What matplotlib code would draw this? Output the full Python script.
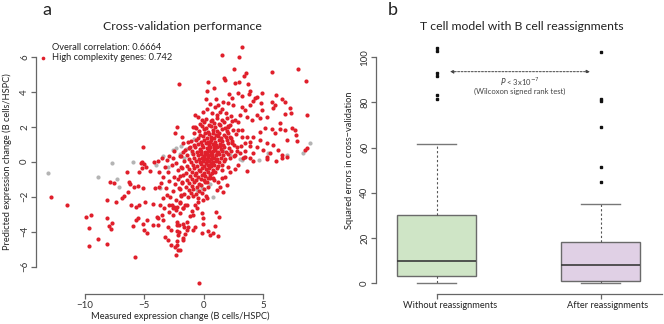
import numpy as np
import matplotlib
matplotlib.use("Agg")
import matplotlib.pyplot as plt

plt.rcParams['font.family'] = ['Lato', 'DejaVu Sans']

# ---- panel a: cross-validation scatter (measured vs predicted) ----
red_pts = [
    # outlying points
    (3.24, 6.53), (1.56, 6.09), (2.96, 5.96), (2.51, 5.29), (5.76, 5.10), (7.89, 5.27), (8.56, 4.59),
    (-2.12, 4.43), (1.70, 4.80), (1.78, 4.66), (3.55, 5.05), (3.38, 4.89), (0.35, 4.57), (2.65, 4.47),
    (2.96, 4.53), (3.74, 4.44), (0.24, 4.05), (0.86, 4.19), (2.15, 3.86), (2.90, 3.94), (3.18, 3.75),
    (3.88, 4.05), (3.83, 3.86), (4.86, 3.94), (4.30, 3.62), (4.50, 3.67), (4.11, 3.48), (4.78, 3.33),
    (5.70, 3.43), (5.98, 3.24), (5.79, 3.05), (6.54, 3.56), (6.82, 3.43), (6.07, 3.81), (7.24, 3.05),
    (7.30, 2.80), (6.82, 2.72), (6.40, 2.19), (7.66, 1.81), (7.38, 1.90), (8.64, 2.66), (7.75, 1.52),
    (7.80, 1.20), (6.82, 1.81), (6.96, 1.24), (6.40, 1.85), (5.70, 1.85), (5.98, 1.62), (5.84, 0.95),
    (6.26, 0.66), (6.54, 0.38), (6.96, 0.28), (8.64, 0.76), (8.50, 0.66), (5.28, 2.57), (4.72, 2.47),
    (4.44, 2.66), (4.86, 2.95), (5.14, 1.90), (4.72, 1.71), (4.72, 1.24), (5.28, 1.05), (5.00, 0.66),
    (4.16, 1.43), (3.88, 1.14), (3.60, 1.43), (4.44, 0.85), (4.16, 0.47), (5.28, 0.28), (5.56, 0.47),
    (3.88, 3.24), (3.46, 2.95), (3.60, 2.57), (4.02, 2.38), (3.18, 3.14), (3.04, 2.66), (2.90, 2.28),
    (2.34, 3.62), (2.48, 3.24), (2.06, 3.33), (1.64, 3.43), (1.22, 3.24), (0.94, 3.14), (1.36, 2.85),
    (1.08, 2.66), (0.66, 2.76), (0.24, 2.99), (-0.04, 2.85), (-0.18, 2.38), (-0.46, 2.57), (-0.74, 2.66),
    (-0.74, 1.99), (-0.88, 1.96), (-2.28, 1.96), (-2.42, 1.66), (-1.86, 1.43), (-1.72, 1.05), (-1.30, 1.14),
    (-1.16, 0.85), (-1.58, 0.66), (2.62, 2.38), (2.90, 1.81), (3.18, 1.43), (3.46, 1.05), (2.76, 0.85),
    (3.04, 0.47), (3.46, 0.28), (2.06, 2.00), (2.20, 1.43), (2.34, 1.05), (0.50, 3.30), (1.00, 3.60),
    (1.50, 3.00), (1.90, 2.80), (2.30, 2.60), (0.20, 3.60), (0.70, 2.40),
    (-5.14, 0.84), (-2.48, 0.61), (-1.75, 0.57), (-2.95, 0.34), (-1.89, 0.34), (-4.16, -0.02),
    (-3.88, 0.05), (-5.25, -0.06),
    (-12.84, -2.00), (-11.50, -2.49), (-7.88, -1.18), (-7.55, -1.24), (-6.48, -0.61), (-6.26, -1.18),
    (-6.17, -1.29), (-5.89, -1.43), (-5.56, -1.39), (-5.14, -1.52), (-6.40, -1.71), (-6.68, -1.94),
    (-6.87, -2.09), (-8.13, -2.21), (-7.38, -2.28), (-6.12, -2.47), (-5.70, -2.57), (-5.42, -2.47),
    (-4.91, -2.28), (-4.24, -2.44), (-5.42, -0.57), (-5.19, -0.38), (-4.86, -0.28), (-4.52, -0.53),
    (-5.22, 0.00), (-5.00, -0.15), (-9.90, -3.14), (-9.48, -3.05), (-8.16, -3.20), (-9.62, -3.81),
    (-7.99, -3.65), (-7.71, -3.52), (-7.80, -3.87), (-8.92, -4.44), (-9.67, -4.84), (-8.13, -4.68),
    (-5.81, -5.46), (-5.98, -3.65), (-5.70, -3.33), (-5.56, -3.24), (-5.14, -3.56), (-4.80, -3.33),
    (-5.00, -3.90), (-4.80, -4.09), (-4.30, -3.62), (-3.96, -3.14), (-3.82, -3.24), (-3.46, -3.33),
    (-3.51, -3.05), (-3.88, -3.62), (-3.68, -2.47), (-3.32, -2.66), (-4.10, -1.48), (-3.74, -1.43),
    (-3.46, -2.09), (-3.09, -1.90), (-3.26, -4.28), (-3.04, -4.47), (-2.76, -4.76), (-2.42, -4.85),
    (-2.20, -5.04), (-2.34, -5.33), (-2.06, -4.00), (-1.78, -4.38), (-2.11, -3.62), (-1.63, -3.71),
    (-3.04, -3.71), (-2.76, -3.90), (-2.25, -3.43), (-2.90, -2.85), (-2.62, -3.05), (-2.34, -2.76),
    (-1.97, -2.95), (-1.78, -2.66), (-1.55, -2.47),
    (-0.37, -6.95), (-2.00, -5.05), (-2.22, -4.76), (-2.28, -4.53), (-1.78, -4.47), (-1.58, -4.15),
    (-2.14, -4.19), (-2.28, -3.96), (-1.44, -3.90), (-1.30, -3.71), (-1.78, -3.58), (-2.22, -3.62),
    (-1.44, -3.43), (-0.74, -3.71), (-0.88, -3.90), (-0.04, -3.56), (-0.18, -4.09), (0.38, -3.96),
    (0.52, -4.19), (0.80, -4.09), (1.17, -4.23), (0.94, -3.67), (1.03, -2.89), (1.31, -3.14),
    (-0.04, -3.24), (-0.18, -2.95), (-0.88, -3.05), (-1.16, -3.08), (-1.02, -2.82), (-0.74, -2.47),
    (-0.60, -2.66), (-0.46, -2.28), (-1.72, -2.66), (-1.44, -2.47), (-2.00, -2.38), (-2.28, -2.57),
    (-2.56, -2.66), (-2.70, -2.47), (-0.04, -2.19), (0.24, -2.09), (1.64, -1.71), (1.98, -1.33),
    (1.08, -1.62), (1.36, -1.43), (0.24, -1.14), (0.52, -0.95), (0.80, -0.91), (1.50, -0.95),
    (1.22, -1.14), (3.66, -0.51), (3.88, 0.19), (4.16, 0.04), (5.28, 0.15), (6.07, 0.04), (6.57, 0.19),
    # medium density band left of the core
    (-3.30, -0.30), (-3.00, -0.60), (-2.70, -0.20), (-2.50, -0.90), (-2.20, -0.50), (-2.90, -1.10),
    (-2.40, -1.30), (-2.00, -0.80), (-3.20, -1.50), (-2.60, -1.70), (-2.10, -1.50), (-1.90, -1.90),
    (-2.80, -2.00), (-2.30, -2.20), (-3.40, -0.90), (-3.10, 0.10), (-2.60, 0.20), (-2.30, -0.10),
    (-2.00, 0.30), (-1.90, -0.30), (-3.60, -1.20), (-2.90, -2.50), (-2.50, -2.60), (-2.00, -2.30),
    (-3.50, 0.20), (-3.80, -0.60), (-2.20, -1.00), (-1.80, -1.20),
    # band right of the core
    (2.50, 0.30), (2.80, 0.60), (3.10, 0.90), (2.40, 1.20), (2.70, 1.60), (3.20, 1.80), (3.50, 0.60),
    (3.90, 0.90), (2.90, -0.20), (3.30, 0.20), (2.60, -0.40), (2.20, -0.60), (1.80, -0.90),
    (1.50, -0.50), (2.00, -0.30),
    # dense core
    (0.15, 2.45), (0.62, 2.33), (1.08, 2.47), (1.55, 2.38), (1.93, 2.50), (2.35, 2.30),
    (-0.35, 2.18), (0.05, 2.27), (0.42, 2.12), (0.83, 2.24), (1.27, 2.15), (1.71, 2.26), (2.18, 2.12),
    (-0.62, 1.95), (-0.17, 2.06), (0.22, 1.93), (0.58, 2.04), (0.97, 1.97), (1.36, 2.08), (1.78, 1.92),
    (2.07, 2.03),
    (-0.43, 1.76), (-0.02, 1.85), (0.36, 1.72), (0.74, 1.83), (1.15, 1.75), (1.52, 1.86), (1.94, 1.74),
    (2.45, 1.81),
    (-0.85, 1.63), (-0.28, 1.55), (0.12, 1.66), (0.47, 1.57), (0.80, 1.65), (1.02, 1.52), (1.32, 1.62),
    (1.67, 1.55), (2.02, 1.64),
    (-0.52, 1.37), (-0.08, 1.45), (0.27, 1.34), (0.58, 1.43), (0.88, 1.36), (1.18, 1.46), (1.45, 1.35),
    (1.83, 1.44), (2.25, 1.36),
    (-1.05, 1.18), (-0.64, 1.24), (-0.24, 1.15), (0.05, 1.23), (0.35, 1.13), (0.64, 1.22), (0.93, 1.14),
    (1.24, 1.25), (1.56, 1.16), (1.92, 1.22),
    (-0.83, 0.96), (-0.45, 1.04), (-0.12, 0.95), (0.18, 1.05), (0.46, 0.97), (0.74, 1.03), (1.05, 0.94),
    (1.33, 1.03), (1.64, 0.96), (2.04, 1.05), (2.52, 0.97),
    (-1.22, 0.77), (-0.73, 0.84), (-0.35, 0.75), (-0.04, 0.83), (0.27, 0.76), (0.55, 0.85), (0.84, 0.77),
    (1.13, 0.83), (1.43, 0.74), (1.74, 0.82), (2.15, 0.76),
    (-1.03, 0.63), (-0.58, 0.56), (-0.22, 0.64), (0.08, 0.55), (0.34, 0.63), (0.63, 0.57), (0.93, 0.65),
    (1.22, 0.56), (1.53, 0.64), (1.88, 0.55), (2.32, 0.62),
    (-1.45, 0.38), (-0.93, 0.44), (-0.52, 0.36), (-0.21, 0.45), (0.03, 0.35), (0.24, 0.43), (0.48, 0.37),
    (0.73, 0.45), (1.02, 0.36), (1.28, 0.44), (1.63, 0.37), (2.03, 0.45), (2.62, 0.36),
    (-1.24, 0.17), (-0.78, 0.24), (-0.42, 0.15), (-0.13, 0.23), (0.13, 0.16), (0.37, 0.25), (0.62, 0.14),
    (0.88, 0.22), (1.14, 0.17), (1.43, 0.24), (1.77, 0.15), (2.24, 0.22),
    (-1.62, 0.03), (-1.04, -0.04), (-0.63, 0.05), (-0.32, -0.03), (-0.04, 0.04), (0.22, -0.05),
    (0.47, 0.03), (0.77, -0.04), (1.03, 0.05), (1.31, -0.03), (1.68, 0.04),
    (-1.38, -0.23), (-0.94, -0.16), (-0.53, -0.24), (-0.23, -0.15), (0.06, -0.22), (0.32, -0.16),
    (0.58, -0.25), (0.87, -0.17), (1.18, -0.23), (1.57, -0.16),
    (-1.83, -0.37), (-1.22, -0.44), (-0.82, -0.36), (-0.43, -0.45), (-0.13, -0.36), (0.18, -0.43),
    (0.48, -0.37), (0.79, -0.45), (1.12, -0.38),
    (-1.52, -0.63), (-1.03, -0.56), (-0.64, -0.64), (-0.28, -0.55), (0.02, -0.63), (0.33, -0.57),
    (0.68, -0.65), (0.98, -0.56),
    (-1.73, -0.77), (-1.18, -0.84), (-0.77, -0.76), (-0.47, -0.85), (-0.18, -0.77), (0.13, -0.83),
    (0.52, -0.76),
    (-1.42, -1.03), (-0.97, -0.96), (-0.63, -1.05), (-0.27, -0.97), (0.04, -1.04), (0.38, -0.95),
    (0.86, -1.03),
    (-1.84, -1.17), (-1.23, -1.24), (-0.82, -1.16), (-0.38, -1.25), (0.08, -1.18),
    (-1.53, -1.43), (-1.02, -1.36), (-0.57, -1.44), (-0.22, -1.35), (0.33, -1.42),
    (-2.03, -1.57), (-1.28, -1.64), (-0.88, -1.56), (-0.42, -1.65), (0.03, -1.57),
    (-1.62, -1.83), (-1.07, -1.76), (-0.68, -1.84), (-0.17, -1.77),
    (-1.93, -1.97), (-1.33, -2.04), (-0.87, -1.96), (-0.52, -2.05), (0.22, -1.98),
    (0.10, 0.50), (0.40, 0.70), (0.70, 0.30), (0.90, 0.90), (1.10, 0.50), (0.30, 0.10), (0.60, -0.10),
    (0.00, 0.30), (-0.30, 0.60), (1.40, 0.90), (0.50, 1.10), (0.80, 0.60),
]

gray_pts = [
    (-13.12, -0.63), (-7.71, -0.09), (-5.98, -0.04), (-8.86, -0.87), (-7.29, -0.99), (-7.15, -1.46),
    (-2.56, 0.65), (-2.30, 0.80), (-1.90, 0.90), (-1.50, 0.70), (-1.00, 0.50), (-1.70, 0.20),
    (-2.00, 0.45), (-3.40, 0.30), (-4.00, -0.20), (-3.70, -1.50), (3.04, 0.15), (3.18, 0.10),
    (3.40, 0.25), (6.96, 0.38), (8.31, 0.51), (8.92, 1.08), (-0.60, -1.62), (-0.18, -1.52),
    (0.75, -2.00), (0.30, -0.50), (1.60, 0.60), (2.20, 0.40), (4.60, 0.10), (5.40, 0.50),
    (-0.80, 1.30), (-1.20, 0.80), (0.50, -1.30), (-3.00, -0.30),
]

corr_overall = 0.6664
corr_high = 0.742

# ---- panel b: squared errors box plots ----
groups = ["Without reassignments", "After reassignments"]
q1 = [3.2, 1.2]
medians = [10.0, 8.0]
q3 = [30.4, 18.4]
whisk_lo = [0.0, 0.0]
whisk_hi = [61.5, 35.0]
fliers = [[104.0, 102.8, 93.0, 91.5, 83.3, 81.5],
          [102.5, 81.3, 80.5, 69.3, 51.3, 44.7]]
box_colors = ["#cfe5c6", "#e0d0e5"]

W, H = 664, 324
fig = plt.figure(figsize=(W / 100, H / 100), dpi=100)

axis_col = "#666666"
text_col = "#222222"
lab_size = 6.7

# ---------------- panel a ----------------
ax1 = fig.add_axes([36 / W, 30 / H, 277 / W, 249 / H])
red = np.array(red_pts)
gray = np.array(gray_pts)
ax1.scatter(gray[:, 0], gray[:, 1], s=9, color="#b4b4b4", linewidths=0, zorder=2)
ax1.scatter(red[:, 0], red[:, 1], s=9, color="#e01f2b", linewidths=0, zorder=3)
ax1.set_xlim(-14.1, 9.18)
ax1.set_ylim(-7.56, 6.67)
ax1.set_xticks([-10, -5, 0, 5])
ax1.set_yticks([-6, -4, -2, 0, 2, 4, 6])
ax1.spines["left"].set_bounds(-6, 6)
ax1.spines["bottom"].set_bounds(-10, 5)
for s in ["top", "right"]:
    ax1.spines[s].set_visible(False)

# ---------------- panel b ----------------
ax2 = fig.add_axes([376 / W, 30 / H, 286 / W, 249 / H])
stats = []
for i in range(2):
    stats.append(dict(med=medians[i], q1=q1[i], q3=q3[i], whislo=whisk_lo[i],
                      whishi=whisk_hi[i], fliers=fliers[i], label=groups[i]))
bp = ax2.bxp(stats, positions=[1, 2], widths=0.48, patch_artist=True,
             boxprops=dict(edgecolor="#6a6a6a", linewidth=1.0),
             medianprops=dict(color="#3a3a3a", linewidth=1.2),
             whiskerprops=dict(color="#555555", linewidth=0.8, linestyle=(0, (2, 2))),
             capprops=dict(color="#777777", linewidth=1.0),
             capwidths=0.24,
             flierprops=dict(marker="s", markersize=2, markerfacecolor="#111111",
                             markeredgecolor="#111111", linestyle="none"))
for patch, c in zip(bp["boxes"], box_colors):
    patch.set_facecolor(c)

ax2.set_xlim(0.63, 2.374)
ax2.set_ylim(-4.73, 105.4)
ax2.set_xticks([1, 2])
ax2.set_xticklabels(["", ""])
ax2.set_yticks([0, 20, 40, 60, 80, 100])
ax2.spines["left"].set_bounds(0, 100)
ax2.spines["bottom"].set_bounds(1, 2.374)
for s in ["top", "right"]:
    ax2.spines[s].set_visible(False)

for x, lab in zip([1.081, 2.042], groups):
    ax2.text(x, -0.047, lab, transform=ax2.get_xaxis_transform(), ha="center", va="center",
             fontsize=lab_size, color=text_col)

ax2.annotate("", xy=(1.081, 93.6), xytext=(1.935, 93.6),
             arrowprops=dict(arrowstyle="<|-|>", color="#444444", lw=0.7, linestyle=(0, (2, 1.5)),
                             mutation_scale=5, shrinkA=0, shrinkB=0))
ax2.text(1.508, 89.2, r"$P$ < 3x10$^{-7}$", ha="center", va="center", fontsize=5.5, color="#444444")
ax2.text(1.508, 84.8, "(Wilcoxon signed rank test)", ha="center", va="center", fontsize=5.5,
         color="#444444")

for ax in (ax1, ax2):
    ax.spines["left"].set_color(axis_col)
    ax.spines["bottom"].set_color(axis_col)
    ax.spines["left"].set_linewidth(0.9)
    ax.spines["bottom"].set_linewidth(0.9)
    ax.tick_params(axis="both", length=3.5, width=0.9, color=axis_col, labelsize=7,
                   labelcolor="#333333", pad=1.5)
    for lab in ax.get_yticklabels():
        lab.set_rotation(90)
        lab.set_va("center")

# ---------------- texts ----------------
fig.text(47 / W, 1 - 10 / H, "a", fontsize=13, ha="center", va="center", color=text_col)
fig.text(393 / W, 1 - 10 / H, "b", fontsize=13, ha="center", va="center", color=text_col)
fig.text(182 / W, 1 - 27 / H, "Cross-validation performance", fontsize=8.8, ha="center",
         va="center", color=text_col)
fig.text(522 / W, 1 - 27 / H, "T cell model with B cell reassignments", fontsize=8.8,
         ha="center", va="center", color=text_col)

fig.text(52 / W, 1 - 48 / H, "Overall correlation: %.4f" % corr_overall, fontsize=6.7,
         ha="left", va="center", color=text_col)
fig.text(52 / W, 1 - 58 / H, "High complexity genes: %.3f" % corr_high, fontsize=6.7,
         ha="left", va="center", color=text_col)
ax1.scatter([43 / W], [1 - 58 / H], s=7, color="#e01f2b", linewidths=0,
            transform=fig.transFigure, clip_on=False)

fig.text(180 / W, 1 - 316 / H, "Measured expression change (B cells/HSPC)", fontsize=lab_size,
         ha="center", va="center", color=text_col)
fig.text(7 / W, 1 - 162 / H, "Predicted expression change (B cells/HSPC)", fontsize=lab_size,
         ha="center", va="center", rotation=90, color=text_col)
fig.text(349 / W, 1 - 160 / H, "Squared errors in cross\u2212validation", fontsize=lab_size,
         ha="center", va="center", rotation=90, color=text_col)

fig.savefig("out.png", dpi=100)
